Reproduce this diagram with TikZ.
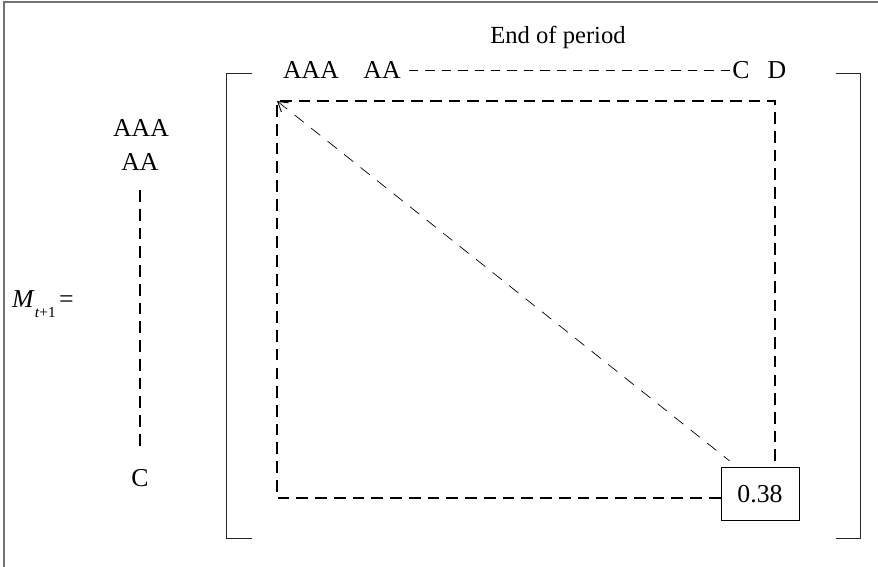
\documentclass[tikz,border=0pt]{standalone}
\usepackage{fontspec}
\setmainfont{Liberation Serif}
\usetikzlibrary{arrows.meta,positioning}

\begin{document}
\begin{tikzpicture}[
    x=0.03cm, y=-0.03cm,
    lbl/.style={font=\fontsize{22}{25}\selectfont, inner sep=1pt},
    bigdash/.style={line width=1.6pt, dash pattern=on 10pt off 6pt},
    thindash/.style={line width=0.7pt, dash pattern=on 8pt off 6pt},
    diagdash/.style={line width=0.6pt, dash pattern=on 10pt off 8pt},
    brk/.style={line width=0.7pt, black!85},
  ]
  \useasboundingbox (0,0) rectangle (878,567);
  % frame
  \draw[line width=1.2pt, black!55] (4,567) -- (4,2) -- (878,2);

  % Title
  \node[lbl, font=\fontsize{21}{24}\selectfont] (title) at (558,37) {End of period};

  % Column labels
  \node[lbl] (tAAA) at (311,70) {AAA};
  \node[lbl] (tAA) at (382,70) {AA};
  \node[lbl] (tC) at (741,70) {C};
  \node[lbl] (tD) at (777,70) {D};
  \draw[thindash, shorten <=6pt] (tAA) -- (tC);

  % Row labels
  \node[lbl] (lAAA) at (141,128) {AAA};
  \node[lbl] (lAA) at (140,162) {AA};
  \node[lbl] (lC) at (140,478) {C};
  \draw[bigdash, shorten <=0.55cm, shorten >=0.65cm] (lAA) -- (lC);

  % Matrix name
  \node[lbl, anchor=base west, inner sep=0pt] (mname) at (12,307)
    {\textit{M}\raisebox{-9pt}{\fontsize{13}{13}\selectfont\textit{t}+1}\kern3pt=};

  % Brackets
  \draw[brk] (252,73) -- (226,73) -- (226,538) -- (252,538);
  \draw[brk] (836,73) -- (860,73) -- (860,538) -- (836,538);

  % Matrix body
  \coordinate (tl) at (277,101);
  \coordinate (tr) at (775,101);
  \coordinate (bl) at (277,498);
  \node[lbl, draw, line width=0.7pt, minimum width=2.34cm, minimum height=1.6cm] (val) at (760,494) {0.38};
  \draw[bigdash] (val.west |- bl) -- (bl) -- (tl) -- (tr) -- (tr |- val.north);
  \draw[diagdash, {Straight Barb[length=8pt,width=10pt,line width=0.8pt]}-] (tl) -- ([shift={(9,-6)}]val.north west);
\end{tikzpicture}
\end{document}
